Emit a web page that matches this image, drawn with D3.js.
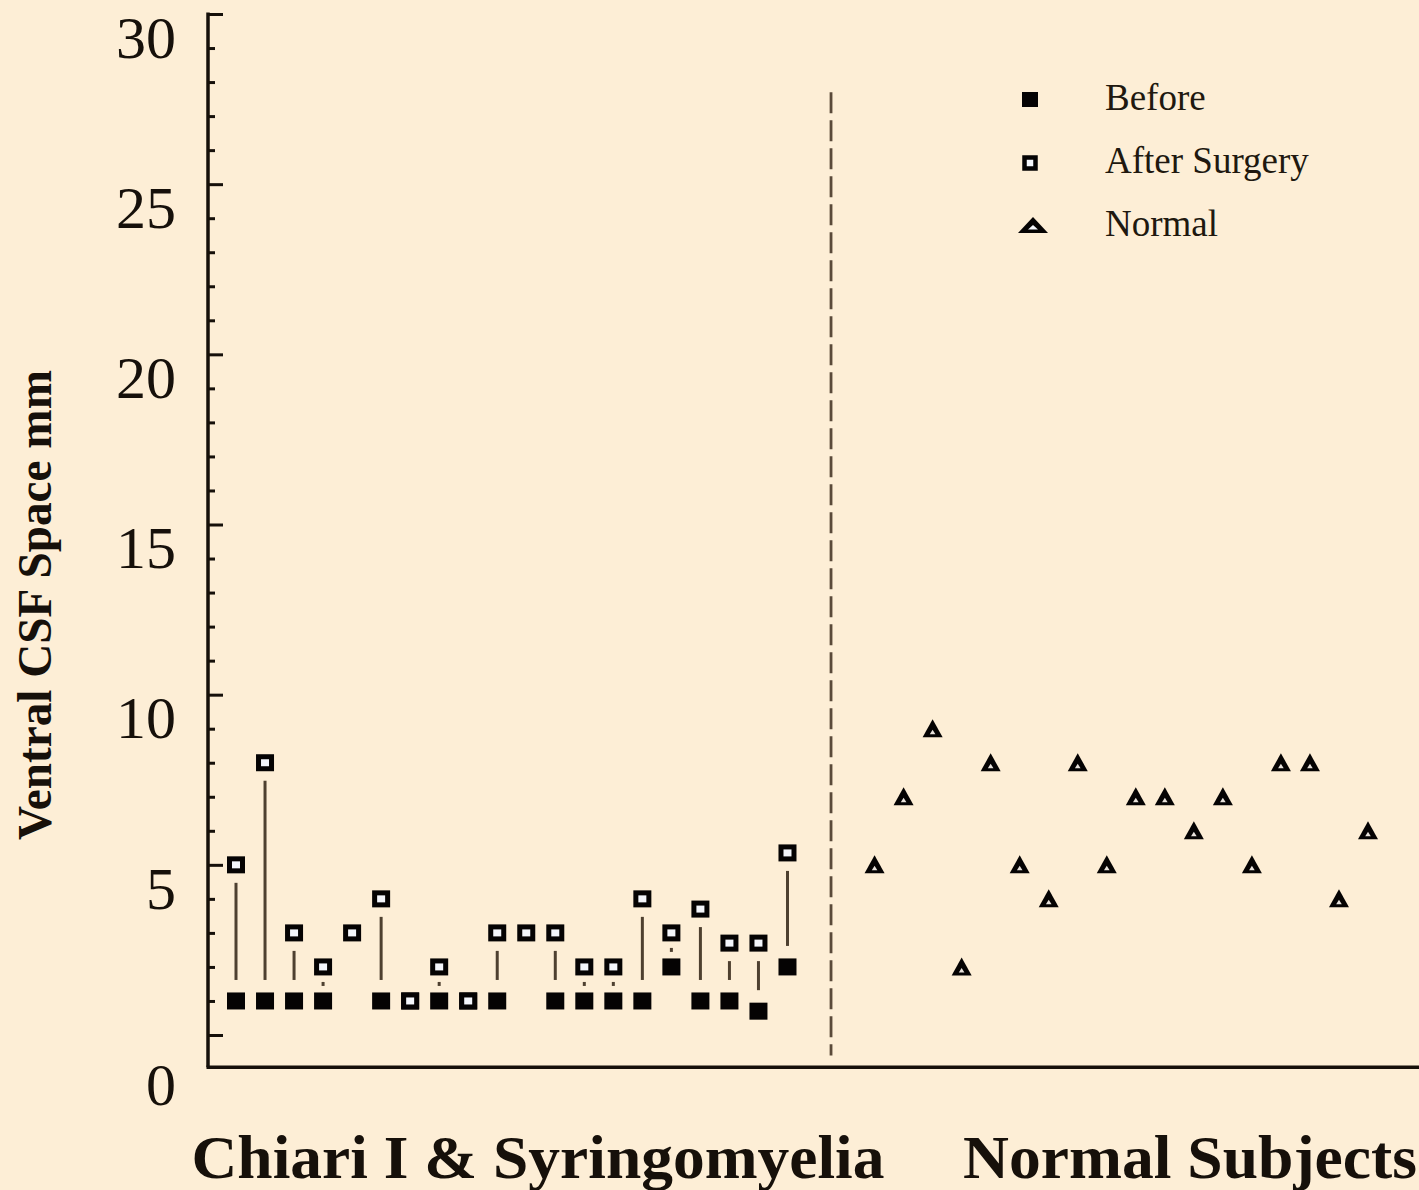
<!DOCTYPE html>
<html>
<head>
<meta charset="utf-8">
<script src="https://cdn.jsdelivr.net/npm/d3@7"></script>
<style>
  body { margin: 0; background: #fdeed6; }
  svg { display: block; }
</style>
</head>
<body>
<div id="my_dataviz"></div>
<script>
// chiari patients: ventral csf space before and after surgery (mm), null = not shown
var beforeValues = [1, 1, 1, 1, null, 1, 1, 1, 1, 1, null, 1, 1, 1, 1, 2, 1, 1, 0.7, 2];
var afterValues  = [5, 8, 3, 2, 3, 4, 1, 2, 1, 3, 3, 3, 2, 2, 4, 3, 3.7, 2.7, 2.7, 5.35];
// normal subjects
var normalValues = [5, 7, 9, 2, 8, 5, 4, 8, 5, 7, 7, 6, 7, 5, 8, 8, 4, 6];

var groupLabels = ["Chiari I & Syringomyelia", "Normal Subjects"];
var legendLabels = ["Before", "After Surgery", "Normal"];
var yTickValues = [0, 5, 10, 15, 20, 25, 30];

var width = 1419, height = 1190;
var serif = "'Liberation Serif', 'Times New Roman', serif";
var ink = "#16100a";

var svg = d3.select("#my_dataviz")
  .append("svg")
    .attr("width", width)
    .attr("height", height);

// slot positions: patients 1..20, then a gap of two, then normals
var chiari = afterValues.map(function(a, i) {
  return {slot: i + 1, before: beforeValues[i], after: a};
});
var normals = normalValues.map(function(v, i) {
  return {slot: i + 23, value: v};
});

var x = d3.scaleLinear()
  .domain([1, 40])
  .range([236, 1368]);

var y = d3.scaleLinear()
  .domain([0, 30])
  .range([1035, 14]);

var axisX = 208;
var baseValue = -0.95;   // where the bottom line sits

// minor ticks
svg.append("g")
  .attr("transform", "translate(" + axisX + ",0)")
  .call(d3.axisLeft(y)
    .tickValues(d3.range(0, 31).filter(function(d) { return d % 5 != 0; }))
    .tickSize(-7)
    .tickFormat(""))
  .call(function(g) { g.select(".domain").remove(); })
  .selectAll("line")
    .attr("stroke", ink)
    .attr("stroke-width", 3);

// major ticks + labels
var yAxis = svg.append("g")
  .attr("transform", "translate(" + axisX + ",0)")
  .call(d3.axisLeft(y)
    .tickValues(yTickValues)
    .tickSize(-15)
    .tickPadding(32)
    .tickFormat(d3.format("d")));
yAxis.select(".domain").remove();
yAxis.selectAll("line")
  .attr("stroke", ink)
  .attr("stroke-width", 3);
yAxis.selectAll("text")
  .attr("font-family", serif)
  .attr("font-size", 60)
  .attr("fill", ink)
  .attr("dy", function(d) { return d == 0 ? "1.15em" : "0.72em"; });

// axis lines
svg.append("line")
  .attr("x1", axisX).attr("x2", axisX)
  .attr("y1", y(30) - 1.5).attr("y2", y(baseValue))
  .attr("stroke", ink)
  .attr("stroke-width", 3.5);
svg.append("line")
  .attr("x1", axisX - 1.5).attr("x2", width)
  .attr("y1", y(baseValue)).attr("y2", y(baseValue))
  .attr("stroke", ink)
  .attr("stroke-width", 3.5);

// dashed separator between groups
svg.append("line")
  .attr("x1", x(21.5)).attr("x2", x(21.5))
  .attr("y1", y(27.7)).attr("y2", y(-0.6))
  .attr("stroke", "#5a4a3a")
  .attr("stroke-width", 2.8)
  .attr("stroke-dasharray", "21,7");

// connectors between before and after
svg.append("g")
  .selectAll("line")
  .data(chiari.filter(function(d) { return d.before != null && d.after > d.before; }))
  .enter().append("line")
    .attr("x1", function(d) { return x(d.slot); })
    .attr("x2", function(d) { return x(d.slot); })
    .attr("y1", function(d) {
      var ya = y(d.after), yb = y(d.before);
      return ya + Math.min(18, (yb - ya) / 2 - 2);
    })
    .attr("y2", function(d) {
      var ya = y(d.after), yb = y(d.before);
      return yb - Math.min(21, (yb - ya) / 2 - 2);
    })
    .attr("stroke", "#4e4030")
    .attr("stroke-width", 3);

// before: filled squares
svg.append("g")
  .selectAll("rect")
  .data(chiari.filter(function(d) { return d.before != null; }))
  .enter().append("rect")
    .attr("x", function(d) { return x(d.slot) - 9; })
    .attr("y", function(d) { return y(d.before) - 8.5; })
    .attr("width", 18)
    .attr("height", 17)
    .attr("fill", "#050303");

// after surgery: open squares
svg.append("g")
  .selectAll("rect")
  .data(chiari)
  .enter().append("rect")
    .attr("x", function(d) { return x(d.slot) - 6.5; })
    .attr("y", function(d) { return y(d.after) - 6; })
    .attr("width", 13)
    .attr("height", 12)
    .attr("fill", "#f4f6fb")
    .attr("stroke", "#050303")
    .attr("stroke-width", 5);

// normal: triangles with a small hole
var triOuter = "M0,-9.5L10,8.5L-10,8.5Z";
var triInner = "M0,1L2.8,5.5L-2.8,5.5Z";
var tri = svg.append("g")
  .selectAll("g")
  .data(normals)
  .enter().append("g")
    .attr("transform", function(d) { return "translate(" + x(d.slot) + "," + y(d.value) + ")"; });
tri.append("path").attr("d", triOuter).attr("fill", "#050303");
tri.append("path").attr("d", triInner).attr("fill", "#e8e2dc");

// legend
var legend = svg.append("g")
  .selectAll("g")
  .data(legendLabels)
  .enter().append("g")
    .attr("transform", function(d, i) { return "translate(1030," + (100 + i * 63) + ")"; });

legend.filter(function(d, i) { return i == 0; })
  .append("rect")
    .attr("x", -8).attr("y", -8)
    .attr("width", 16).attr("height", 15)
    .attr("fill", "#050303");
legend.filter(function(d, i) { return i == 1; })
  .append("rect")
    .attr("x", -5.5).attr("y", -5.5)
    .attr("width", 11).attr("height", 11)
    .attr("fill", "#f4f6fb")
    .attr("stroke", "#050303")
    .attr("stroke-width", 4.5);
var legTri = legend.filter(function(d, i) { return i == 2; });
legTri.append("path").attr("d", "M3,-9L18,7L-12,7Z").attr("fill", "#050303");
legTri.append("path").attr("d", "M3,-1L8,3.5L-2,3.5Z").attr("fill", "#f4f6fb");

legend.append("text")
  .attr("x", 75)
  .attr("y", 10)
  .attr("font-family", serif)
  .attr("font-size", 37)
  .attr("fill", "#20180f")
  .text(function(d) { return d; });

// y label
svg.append("text")
  .attr("transform", "translate(51,605) rotate(-90)")
  .attr("text-anchor", "middle")
  .attr("font-family", serif)
  .attr("font-weight", "bold")
  .attr("font-size", 48)
  .attr("fill", ink)
  .attr("textLength", 470)
  .attr("lengthAdjust", "spacingAndGlyphs")
  .text("Ventral CSF Space mm");

// group labels under the axis
svg.append("text")
  .attr("x", 538)
  .attr("y", 1178)
  .attr("text-anchor", "middle")
  .attr("font-family", serif)
  .attr("font-weight", "bold")
  .attr("font-size", 62)
  .attr("fill", ink)
  .attr("textLength", 693)
  .attr("lengthAdjust", "spacingAndGlyphs")
  .text(groupLabels[0]);

svg.append("text")
  .attr("x", 1190)
  .attr("y", 1178)
  .attr("text-anchor", "middle")
  .attr("font-family", serif)
  .attr("font-weight", "bold")
  .attr("font-size", 62)
  .attr("fill", ink)
  .attr("textLength", 454)
  .attr("lengthAdjust", "spacingAndGlyphs")
  .text(groupLabels[1]);
</script>
</body>
</html>
